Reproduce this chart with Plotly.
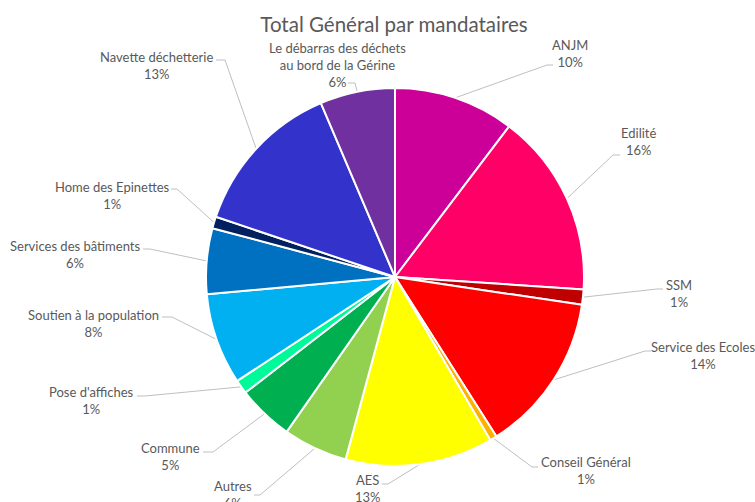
import numpy as np
import plotly.graph_objects as go

# ---------------- data ----------------
categories = [
    "ANJM", "Edilité", "SSM", "Service des Ecoles", "Conseil Général", "AES",
    "Autres", "Commune", "Pose d'affiches", "Soutien à la population",
    "Services des bâtiments", "Home des Epinettes", "Navette déchetterie",
    "Le débarras des déchets au bord de la Gérine",
]
values = [10.3, 15.7, 1.3, 13.6, 0.6, 12.6, 5.5, 4.8, 1.2, 7.8, 5.6, 1.0, 13.4, 6.4]
label_names = [
    "ANJM", "Edilité", "SSM", "Service des Ecoles", "Conseil Général", "AES",
    "Autres", "Commune", "Pose d'affiches", "Soutien à la population",
    "Services des bâtiments", "Home des Epinettes", "Navette déchetterie",
    "Le débarras des déchets<br>au bord de la Gérine",
]
colors = [
    "#CC0099", "#FF0066", "#C00000", "#FF0000", "#FFB000", "#FFFF00",
    "#92D050", "#00B050", "#00FA9A", "#00B0F0", "#0070C0", "#002060",
    "#3333CC", "#7030A0",
]
title_text = "Total Général par mandataires"

# ---------------- layout constants ----------------
W, H = 755, 502
CX, CY, R = 395, 277, 189  # pie centre / radius in pixels
FONT = "Lato"
TEXT_COL = "#595959"
LINE_COL = "#BFBFBF"

# label placement (label centre, elbow of leader line, horizontal tick length)
label_layout = [
    (570, 53, 547, 65, 6),
    (638, 141, 613, 155, 7),
    (679, 293, 657, 289, 6),
    (703, 355, 645, 351, 6),
    (586, 470, 532, 467, 6),
    (368, 488, 388, 484, -6),
    (233, 494, 260, 495, -6),
    (170, 456, 213, 452, -10),
    (91, 400, 145, 396, -8),
    (93, 323, 172, 317, -10),
    (75, 254, 150, 249, -7),
    (112, 195, 177, 189, -6),
    (156, 65, 225, 60, -9),
    (337, 65, 355, 83, -7),
]

def px(x):
    return x / W

def py(y):
    return 1 - y / H

fig = go.Figure(go.Pie(
    labels=categories,
    values=values,
    sort=False,
    direction="clockwise",
    rotation=0,
    marker=dict(colors=colors, line=dict(color="white", width=2)),
    textinfo="none",
    hoverinfo="label+percent",
    showlegend=False,
    domain=dict(x=[px(CX - R), px(CX + R)], y=[py(CY + R), py(CY - R)]),
))

vals = np.array(values, dtype=float)
total = vals.sum()
cum = np.cumsum(vals) - vals / 2.0
mid_angles = cum / total * 2 * np.pi  # clockwise from 12 o'clock

annotations = []
shapes = []
for i, (name, v) in enumerate(zip(label_names, values)):
    pct = int(v / total * 100 + 0.5)
    lx, ly, ex, ey, tick = label_layout[i]
    annotations.append(dict(
        x=px(lx), y=py(ly), xref="paper", yref="paper",
        text=f"{name}<br>{pct}%", showarrow=False,
        xanchor="center", yanchor="middle", align="center",
        font=dict(family=FONT, size=13, color=TEXT_COL),
    ))
    a = mid_angles[i]
    sx = CX + R * np.sin(a)
    sy = CY - R * np.cos(a)
    path = (f"M {px(sx)} {py(sy)} L {px(ex)} {py(ey)} "
            f"L {px(ex + tick)} {py(ey)}")
    shapes.append(dict(type="path", path=path, xref="paper", yref="paper",
                       line=dict(color=LINE_COL, width=1), layer="below"))

fig.update_layout(
    width=W, height=H,
    margin=dict(l=0, r=0, t=0, b=0),
    paper_bgcolor="white", plot_bgcolor="white",
    title=dict(text=title_text, x=px(394), y=py(25), xref="paper", yref="paper",
               xanchor="center", yanchor="middle",
               font=dict(family=FONT, size=20.5, color=TEXT_COL)),
    annotations=annotations,
    shapes=shapes,
)

fig.write_html("out.html",
               config={"displayModeBar": False},
               post_script="document.body.style.margin='0px';document.body.style.overflow='hidden';")
